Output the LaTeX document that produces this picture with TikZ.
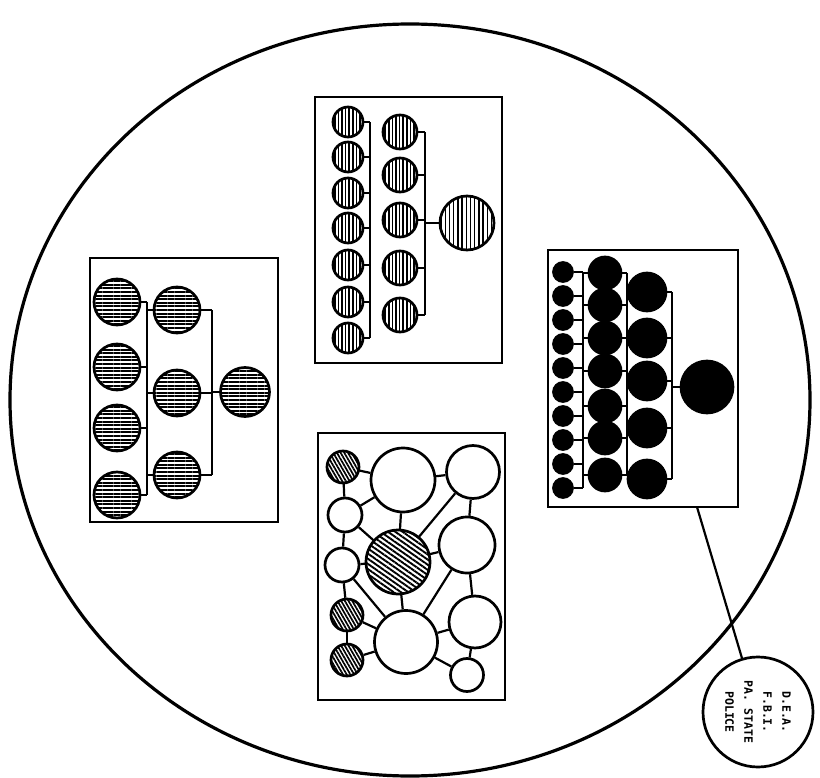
\documentclass[tikz,border=0pt]{standalone}
\usepackage{fontspec}
\newfontfamily\labfont{DejaVu Sans Mono}
\usetikzlibrary{patterns.meta,shapes.geometric}
\tikzset{
  boxframe/.style={draw, line width=2.5pt, inner sep=0pt, rectangle},
  ring/.style={circle, draw, line width=2.7pt, inner sep=0pt, minimum size=#1},
  vhatch/.style={pattern={Lines[angle=90,distance=3.6pt,line width=1.7pt]}},
  vhatchthin/.style={pattern={Lines[angle=90,distance=4.2pt,line width=1.4pt]}},
  hhatch/.style={pattern={Lines[angle=0,distance=3.6pt,line width=2pt]}},
  dhatch/.style={pattern={Lines[angle=-35,distance=4.2pt,line width=1.9pt]}},
  squig/.style={pattern={Lines[angle=-60,distance=3.2pt,line width=1.7pt]}},
  inkfill/.style={fill=black},
  wire/.style={line width=2.2pt},
}
\begin{document}
\begin{tikzpicture}[x=1pt,y=-1pt]
\useasboundingbox (0,0) rectangle (820,778);
% outer ellipse
\node[ellipse, draw, line width=3.2pt, minimum width=800pt, minimum height=752pt, inner sep=0pt] (outer) at (410,400) {};

% ---------- top box ----------
\node[boxframe, minimum width=187pt, minimum height=266pt] (tbox) at (408.5,230) {};
\foreach \y [count=\i] in {122,157,193,228,265,302,338}
  \node[ring=30pt, vhatch] (ta\i) at (348,\y) {};
\foreach \y [count=\i] in {132,175,220,268,315}
  \node[ring=34pt, vhatch] (tb\i) at (400,\y) {};
\node[ring=54pt, vhatchthin] (tc) at (467,223) {};
\coordinate (tbusa) at (370,0);
\coordinate (tbusb) at (425,0);
\foreach \i in {1,...,7} \draw[wire] (ta\i.east) -- (ta\i.east -| tbusa);
\draw[wire] (ta1.east -| tbusa) -- (ta7.east -| tbusa);
\foreach \i in {1,...,5} \draw[wire] (tb\i.east) -- (tb\i.east -| tbusb);
\draw[wire] (tb1.east -| tbusb) -- (tb5.east -| tbusb);
\draw[wire] (tc.west -| tbusb) -- (tc.west);

% ---------- left box ----------
\node[boxframe, minimum width=188pt, minimum height=264pt] (lbox) at (184,390) {};
\foreach \y [count=\i] in {302,367,428,495}
  \node[ring=46pt, hhatch] (la\i) at (117,\y) {};
\foreach \y [count=\i] in {310,393,475}
  \node[ring=46pt, hhatch] (lb\i) at (177,\y) {};
\node[ring=49pt, hhatch] (lc) at (245,392) {};
\coordinate (lbusa) at (147,0);
\coordinate (lbusb) at (212,0);
\foreach \i in {1,...,4} \draw[wire] (la\i.east) -- (la\i.east -| lbusa);
\draw[wire] (la1.east -| lbusa) -- (la4.east -| lbusa);
\foreach \i in {1,...,3} {
  \draw[wire] (lb\i.west -| lbusa) -- (lb\i.west);
  \draw[wire] (lb\i.east) -- (lb\i.east -| lbusb);
}
\draw[wire] (lb1.east -| lbusb) -- (lb3.east -| lbusb);
\draw[wire] (lc.west -| lbusb) -- (lc.west);

% ---------- right box ----------
\node[boxframe, minimum width=190pt, minimum height=257pt] (rbox) at (643,378.5) {};
\foreach \y [count=\i] in {272,296,320,344,368,392,416,440,464,488}
  \node[ring=19pt, inkfill] (ra\i) at (563,\y) {};
\foreach \y [count=\i] in {273,305,338,371,406,438,475}
  \node[ring=32pt, inkfill] (rb\i) at (605,\y) {};
\foreach \y [count=\i] in {292,338,381,428,479}
  \node[ring=38pt, inkfill] (rc\i) at (647,\y) {};
\node[ring=52pt, inkfill] (rd) at (707,387) {};
\coordinate (rbusa) at (583,0);
\coordinate (rbusb) at (627,0);
\coordinate (rbusc) at (672,0);
\foreach \i in {1,...,10} \draw[wire] (ra\i.east) -- (ra\i.east -| rbusa);
\draw[wire] (ra1.east -| rbusa) -- (ra10.east -| rbusa);
\foreach \i in {1,...,7} {
  \draw[wire] (rb\i.west -| rbusa) -- (rb\i.west);
  \draw[wire] (rb\i.east) -- (rb\i.east -| rbusb);
}
\draw[wire] (rb1.east -| rbusb) -- (rb7.east -| rbusb);
\foreach \i in {1,...,5} {
  \draw[wire] (rc\i.west -| rbusb) -- (rc\i.west);
  \draw[wire] (rc\i.east) -- (rc\i.east -| rbusc);
}
\draw[wire] (rc1.east -| rbusc) -- (rc5.east -| rbusc);
\draw[wire] (rd.west -| rbusc) -- (rd.west);

% ---------- bottom box ----------
\node[boxframe, minimum width=187pt, minimum height=267pt] (bbox) at (411.5,566.5) {};
\node[ring=32pt, squig] (nA) at (343,467) {};
\node[ring=64pt] (nB) at (403,480) {};
\node[ring=53pt] (nC) at (473,472) {};
\node[ring=34pt] (nD) at (345,515) {};
\node[ring=64pt, dhatch] (nE) at (398,562) {};
\node[ring=56pt] (nF) at (467,545) {};
\node[ring=34pt] (nG) at (342,565) {};
\node[ring=32pt, squig] (nH) at (347,615) {};
\node[ring=32pt, squig] (nI) at (347,660) {};
\node[ring=63pt] (nJ) at (406,642) {};
\node[ring=52pt] (nK) at (475,622) {};
\node[ring=33pt] (nL) at (467,675) {};
\foreach \a/\b in {nA/nB,nA/nD,nD/nB,nB/nC,nB/nE,nD/nE,nD/nG,nC/nE,nC/nF,nE/nF,
                   nG/nE,nG/nJ,nG/nH,nE/nJ,nF/nJ,nF/nK,nH/nJ,nH/nI,nI/nJ,nJ/nK,nJ/nL,nK/nL}
  \draw[wire] (\a) -- (\b);

% ---------- label ----------
\node[circle, draw, line width=2.7pt, minimum size=110pt, inner sep=0pt] (lab) at (758,712) {};
\node[rotate=-90, align=center, inner sep=0pt,
      font=\labfont\bfseries\fontsize{11.5}{19}\selectfont] (labtext) at (lab) {D.E.A.\\F.B.I.\\PA. STATE\\POLICE};
\coordinate (rfoot) at (697,507);
\draw[wire] (rfoot) -- (lab);
\end{tikzpicture}
\end{document}
